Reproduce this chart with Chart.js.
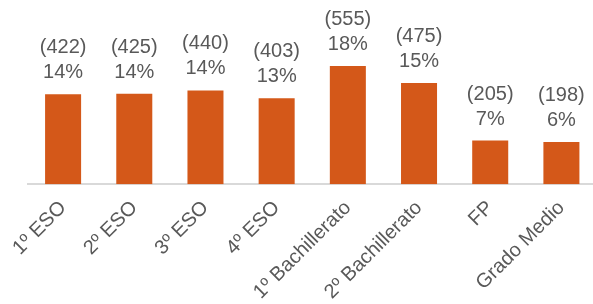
<!DOCTYPE html>
<html>
<head>
<meta charset="utf-8">
<script src="https://cdn.jsdelivr.net/npm/chart.js@4"></script>
<style>
  html, body { margin: 0; padding: 0; background: #fff; overflow: hidden; }
  #wrap { width: 604px; height: 308px; }
</style>
</head>
<body>
<div id="wrap"><canvas id="barChart"></canvas></div>
<script>
    var cursos = ['1º ESO', '2º ESO', '3º ESO', '4º ESO', '1º Bachillerato', '2º Bachillerato', 'FP', 'Grado Medio'];
    var alumnos = [422, 425, 440, 403, 555, 475, 205, 198];
    var porcentajes = [14, 14, 14, 13, 18, 15, 7, 6];

    var etiquetas = {
        id: 'etiquetas',
        afterDatasetsDraw: function (chart) {
            var ctx = chart.ctx;
            var meta = chart.getDatasetMeta(0);
            ctx.save();
            ctx.fillStyle = '#595959';
            ctx.font = '20px "Liberation Sans", Arial, sans-serif';
            ctx.textAlign = 'center';
            ctx.textBaseline = 'alphabetic';
            meta.data.forEach(function (bar, i) {
                ctx.fillText(porcentajes[i] + '%', bar.x, bar.y - 16);
                ctx.fillText('(' + alumnos[i] + ')', bar.x, bar.y - 41);
            });
            ctx.restore();
        }
    };

    var ctx = document.getElementById('barChart').getContext('2d');
    var myChart = new Chart(ctx, {
        type: 'bar',
        data: {
            labels: cursos,
            datasets: [{
                data: alumnos,
                backgroundColor: '#D45819',
                categoryPercentage: 1,
                barPercentage: 0.506
            }]
        },
        options: {
            responsive: true,
            maintainAspectRatio: false,
            animation: false,
            layout: { padding: { left: 27.5, right: 7, top: 0, bottom: 0 } },
            plugins: {
                legend: { display: false },
                tooltip: { enabled: false }
            },
            scales: {
                y: {
                    display: false,
                    min: 0,
                    max: 865
                },
                x: {
                    grid: { display: false },
                    border: { color: '#D9D9D9', width: 2 },
                    ticks: {
                        color: '#595959',
                        font: { size: 20, family: '"Liberation Sans", Arial, sans-serif' },
                        minRotation: 45,
                        maxRotation: 45,
                        padding: 4
                    }
                }
            }
        },
        plugins: [etiquetas]
    });
</script>
</body>
</html>
